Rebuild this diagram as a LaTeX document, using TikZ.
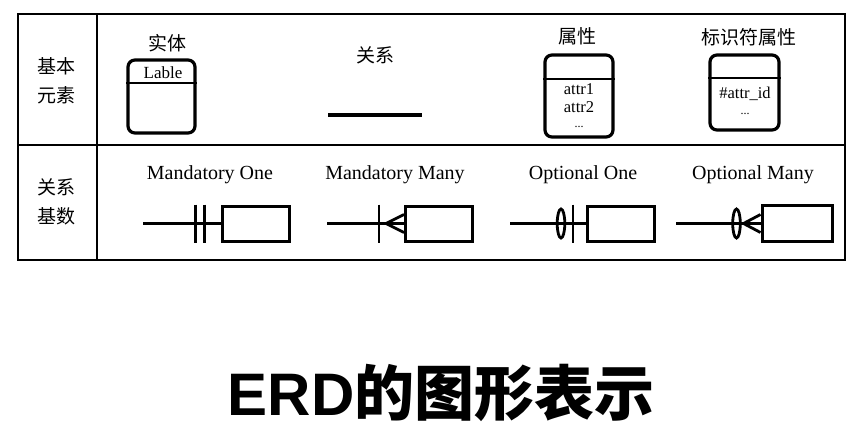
\documentclass[tikz,border=0pt]{standalone}
\usepackage{fontspec}
\setmainfont{Liberation Serif}
\newfontfamily\cjk{Noto Sans CJK SC}
\newfontfamily\titlelat{Liberation Sans}
\begin{document}
\begin{tikzpicture}[x=1pt,y=-1pt,
  frame/.style={line width=1.6pt},
  ebox/.style={draw, line width=3.2pt, rounded corners=7pt, inner sep=0pt},
  divider/.style={line width=2.8pt},
  relline/.style={line width=3.4pt},
  cbox/.style={draw, line width=3pt, minimum width=67pt, minimum height=35pt, inner sep=0pt},
  cline/.style={line width=2.8pt},
  cjklab/.style={font=\cjk\fontsize{19}{29}\selectfont, align=center, inner sep=0pt},
  enlab/.style={font=\fontsize{20}{24}\selectfont, inner sep=0pt},
  smalltxt/.style={font=\fontsize{16.5}{19}\selectfont, inner sep=0pt}
]
\useasboundingbox (0,0) rectangle (865,434);
% table
\draw[frame] (18,14) rectangle (845,260);
\draw[frame] (18,145) -- (845,145);
\draw[frame] (97,14) -- (97,260);
% row labels
\node[cjklab] (row1) at (56,81) {基本\\元素};
\node[cjklab] (row2) at (56,202) {关系\\基数};
% entity
\node[cjklab] (entlab) at (167,43) {实体};
\node[ebox, minimum width=67pt, minimum height=73pt] (ent) at (161.5,96.5) {};
\draw[divider] (ent.west |- 0,83) -- (ent.east |- 0,83);
\node[smalltxt, font=\fontsize{17}{20}\selectfont] (entname) at (163,73) {Lable};
% relation
\node[cjklab] (rellab) at (375,55) {关系};
\coordinate (relA) at (328,115);
\coordinate (relB) at (422,115);
\draw[relline] (relA) -- (relB);
% attribute
\node[cjklab] (attlab) at (577,36) {属性};
\node[ebox, minimum width=68pt, minimum height=82pt] (att) at (579,96) {};
\draw[divider] (att.west |- 0,79) -- (att.east |- 0,79);
\node[smalltxt] (a1) at (579,89) {attr1};
\node[smalltxt] (a2) at (579,107) {attr2};
\node[smalltxt, font=\fontsize{12}{14}\selectfont] (a3) at (579,127) {...};
% identifier attribute
\node[cjklab] (idlab) at (749,37) {标识符属性};
\node[ebox, minimum width=69pt, minimum height=75pt] (idb) at (744.5,92.5) {};
\draw[divider] (idb.west |- 0,78) -- (idb.east |- 0,78);
\node[smalltxt] (id1) at (745,94) {\#attr\_id};
\node[smalltxt, font=\fontsize{12}{14}\selectfont] (id2) at (745,114) {...};
% cardinality labels
\node[enlab] (lmo) at (210,175) {Mandatory One};
\node[enlab] (lmm) at (395,175) {Mandatory Many};
\node[enlab] (loo) at (583,175) {Optional One};
\node[enlab] (lom) at (753,175) {Optional Many};
% Mandatory One
\node[cbox] (mo) at (255.5,223.5) {};
\coordinate (mo0) at (143,223.5);
\draw[cline] (mo0) -- (mo.west);
\draw[cline] ([xshift=-25pt]mo.north west) -- ([xshift=-25pt]mo.south west);
\draw[cline] ([xshift=-16pt]mo.north west) -- ([xshift=-16pt]mo.south west);
% Mandatory Many
\node[cbox] (mm) at (439,223.5) {};
\coordinate (mm0) at (327,223.5);
\draw[cline] (mm0) -- (mm.west);
\draw[cline] ([xshift=-25pt]mm.north west) -- ([xshift=-25pt]mm.south west);
\draw[cline] ([yshift=9pt]mm.west) -- ([xshift=-18pt]mm.west) -- ([yshift=-9pt]mm.west);
% Optional One
\node[cbox] (oo) at (621,223.5) {};
\coordinate (oo0) at (510,223.5);
\draw[cline] (oo0) -- (oo.west);
\draw[cline] ([xshift=-25pt]oo.west) ellipse [x radius=3.8pt, y radius=14.5pt];
\draw[cline] ([xshift=-13pt]oo.north west) -- ([xshift=-13pt]oo.south west);
% Optional Many
\node[cbox, minimum width=70pt, minimum height=36pt] (om) at (797,223.5) {};
\coordinate (om0) at (676,223.5);
\draw[cline] (om0) -- (om.west);
\draw[cline] ([xshift=-24pt]om.west) ellipse [x radius=3.8pt, y radius=14.5pt];
\draw[cline] ([yshift=9pt]om.west) -- ([xshift=-17pt]om.west) -- ([yshift=-9pt]om.west);
% title
\node[inner sep=0pt, font=\fontsize{60}{70}\selectfont] (title) at (441,393) {{\titlelat\bfseries ERD}{\cjk\bfseries 的图形表示}};
\end{tikzpicture}
\end{document}
